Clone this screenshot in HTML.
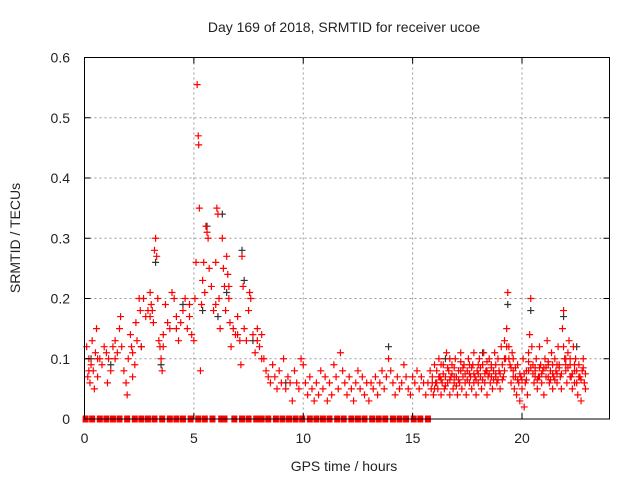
<!DOCTYPE html>
<html><head><meta charset="utf-8"><style>
body{margin:0;background:#fff;width:640px;height:480px;overflow:hidden;font-family:"Liberation Sans",sans-serif}
svg text{font-family:"Liberation Sans",sans-serif;fill:#222;font-size:14px}
</style></head><body>
<svg id="chart" width="640" height="480" xmlns="http://www.w3.org/2000/svg">
<text x="344" y="32" text-anchor="middle">Day 169 of 2018, SRMTID for receiver ucoe</text>
<text x="344" y="471" text-anchor="middle">GPS time / hours</text>
<text transform="translate(20,238) rotate(-90)" text-anchor="middle">SRMTID / TECUs</text>
<g id="grid"></g>
<g id="marks"></g>
<rect x="84.5" y="57.5" width="525" height="361.5" fill="none" stroke="#000" stroke-width="1"/>
<g id="ticks"></g>
</svg>
<script>
const xTicks=[0,5,10,15,20];
const yTicks=[0,0.1,0.2,0.3,0.4,0.5,0.6];
const yTickLabels=["0","0.1","0.2","0.3","0.4","0.5","0.6"];
const zeroTimes=[0.05,0.35,0.7,1.0,1.3,1.6,1.95,2.3,2.6,2.9,3.2,3.55,3.9,4.2,4.5,4.85,5.2,5.5,5.85,6.25,6.4,6.85,7.2,7.5,7.85,8.1,8.4,8.75,9.05,9.35,9.65,9.95,10.3,10.6,10.9,11.2,11.55,11.85,12.2,12.5,12.8,13.15,13.45,13.75,14.1,14.4,14.7,15.05,15.35,15.7];
const redPoints=[[0.1,0.12],[0.15,0.07],[0.2,0.1],[0.25,0.06],[0.3,0.09],[0.35,0.13],[0.4,0.08],[0.45,0.05],[0.5,0.11],[0.55,0.15],[0.6,0.07],[0.7,0.1],[0.8,0.09],[0.9,0.12],[1.0,0.11],[1.05,0.06],[1.1,0.1],[1.2,0.08],[1.3,0.12],[1.4,0.1],[1.5,0.11],[1.6,0.15],[1.65,0.17],[1.7,0.12],[1.8,0.08],[1.9,0.06],[1.95,0.04],[2.0,0.1],[2.1,0.14],[2.15,0.12],[2.2,0.11],[2.3,0.09],[2.35,0.16],[2.4,0.13],[2.5,0.2],[2.55,0.18],[2.6,0.12],[2.7,0.2],[2.8,0.17],[2.9,0.18],[3.0,0.21],[3.05,0.19],[3.1,0.18],[3.15,0.16],[3.2,0.28],[3.25,0.3],[3.3,0.27],[3.35,0.2],[3.4,0.13],[3.45,0.12],[3.5,0.1],[3.55,0.08],[3.6,0.14],[3.7,0.19],[3.8,0.16],[3.9,0.15],[4.0,0.21],[4.1,0.2],[4.2,0.17],[4.3,0.13],[4.4,0.16],[4.5,0.18],[4.6,0.2],[4.7,0.15],[4.8,0.17],[4.9,0.14],[5.0,0.13],[5.05,0.2],[5.1,0.26],[5.15,0.555],[5.2,0.47],[5.22,0.455],[5.25,0.35],[5.3,0.08],[5.35,0.19],[5.4,0.23],[5.45,0.26],[5.5,0.21],[5.55,0.32],[5.6,0.31],[5.65,0.3],[5.7,0.25],[5.8,0.22],[5.9,0.18],[6.0,0.26],[6.05,0.35],[6.1,0.34],[6.15,0.2],[6.2,0.15],[6.3,0.3],[6.35,0.25],[6.4,0.22],[6.45,0.18],[6.5,0.27],[6.55,0.24],[6.6,0.2],[6.65,0.16],[6.7,0.12],[6.8,0.15],[6.9,0.14],[7.0,0.17],[7.1,0.13],[7.15,0.09],[7.2,0.27],[7.25,0.22],[7.3,0.15],[7.4,0.13],[7.5,0.18],[7.55,0.21],[7.6,0.2],[7.7,0.14],[7.8,0.11],[7.9,0.13],[8.0,0.12],[8.1,0.14],[8.2,0.1],[8.3,0.08],[8.4,0.07],[8.5,0.06],[8.6,0.09],[8.7,0.07],[8.8,0.05],[8.9,0.08],[9.0,0.06],[9.1,0.1],[9.2,0.05],[9.3,0.07],[9.4,0.06],[9.5,0.03],[9.6,0.08],[9.7,0.06],[9.8,0.05],[9.9,0.1],[10.0,0.09],[10.1,0.06],[10.2,0.04],[10.3,0.07],[10.4,0.05],[10.5,0.03],[10.6,0.06],[10.7,0.04],[10.8,0.08],[10.9,0.05],[11.0,0.07],[11.1,0.03],[11.2,0.06],[11.3,0.04],[11.4,0.09],[11.5,0.07],[11.6,0.05],[11.7,0.11],[11.8,0.08],[11.9,0.06],[12.0,0.04],[12.1,0.07],[12.2,0.05],[12.3,0.03],[12.4,0.06],[12.5,0.08],[12.6,0.05],[12.7,0.07],[12.8,0.04],[12.9,0.06],[13.0,0.03],[13.1,0.06],[13.2,0.05],[13.3,0.07],[13.4,0.04],[13.5,0.06],[13.6,0.08],[13.7,0.05],[13.8,0.07],[13.9,0.1],[14.0,0.08],[14.1,0.06],[14.2,0.04],[14.3,0.07],[14.4,0.05],[14.5,0.06],[14.6,0.09],[14.7,0.07],[14.8,0.05],[14.9,0.04],[15.0,0.07],[15.1,0.06],[15.2,0.08],[15.3,0.05],[15.4,0.07],[15.5,0.06],[15.6,0.04],[15.7,0.06],[15.8,0.08],[15.85,0.05],[15.9,0.07],[15.95,0.04],[16.0,0.09],[16.05,0.06],[16.1,0.08],[16.15,0.05],[16.2,0.1],[16.25,0.07],[16.3,0.04],[16.35,0.06],[16.4,0.09],[16.45,0.05],[16.5,0.07],[16.55,0.11],[16.6,0.06],[16.65,0.08],[16.7,0.04],[16.75,0.07],[16.8,0.09],[16.85,0.05],[16.9,0.06],[16.95,0.1],[17.0,0.07],[17.05,0.04],[17.1,0.08],[17.15,0.06],[17.2,0.11],[17.25,0.05],[17.3,0.07],[17.35,0.09],[17.4,0.06],[17.45,0.04],[17.5,0.08],[17.55,0.1],[17.6,0.06],[17.65,0.07],[17.7,0.05],[17.75,0.09],[17.8,0.11],[17.85,0.07],[17.9,0.04],[17.95,0.08],[18.0,0.06],[18.05,0.1],[18.1,0.07],[18.15,0.05],[18.2,0.09],[18.25,0.11],[18.3,0.06],[18.35,0.08],[18.4,0.04],[18.45,0.07],[18.5,0.1],[18.55,0.06],[18.6,0.09],[18.65,0.05],[18.7,0.08],[18.75,0.11],[18.8,0.07],[18.85,0.06],[18.9,0.1],[18.95,0.08],[19.0,0.05],[19.05,0.12],[19.1,0.09],[19.15,0.07],[19.2,0.13],[19.25,0.1],[19.3,0.15],[19.35,0.21],[19.4,0.12],[19.45,0.09],[19.5,0.06],[19.55,0.11],[19.6,0.08],[19.65,0.05],[19.7,0.07],[19.75,0.04],[19.8,0.09],[19.85,0.06],[19.9,0.03],[19.95,0.07],[20.0,0.05],[20.05,0.1],[20.1,0.02],[20.15,0.06],[20.2,0.08],[20.25,0.04],[20.3,0.11],[20.35,0.14],[20.4,0.2],[20.45,0.12],[20.5,0.09],[20.55,0.06],[20.6,0.08],[20.65,0.1],[20.7,0.05],[20.75,0.07],[20.8,0.12],[20.85,0.09],[20.9,0.06],[20.95,0.08],[21.0,0.04],[21.05,0.1],[21.1,0.07],[21.15,0.13],[21.2,0.09],[21.25,0.06],[21.3,0.08],[21.35,0.11],[21.4,0.05],[21.45,0.07],[21.5,0.1],[21.55,0.08],[21.6,0.06],[21.65,0.12],[21.7,0.09],[21.75,0.07],[21.8,0.05],[21.85,0.15],[21.9,0.18],[21.95,0.1],[22.0,0.08],[22.05,0.06],[22.1,0.11],[22.15,0.13],[22.2,0.09],[22.25,0.07],[22.3,0.05],[22.35,0.12],[22.4,0.08],[22.45,0.1],[22.5,0.06],[22.55,0.04],[22.6,0.09],[22.65,0.07],[22.7,0.03],[22.75,0.08],[22.8,0.1],[22.85,0.06],[22.9,0.05],[16.3,0.09],[16.7,0.1],[17.2,0.08],[17.6,0.09],[18.0,0.09],[18.4,0.08],[18.8,0.09],[19.2,0.08],[20.3,0.08],[20.8,0.07],[21.2,0.07],[21.6,0.09],[22.0,0.1],[22.4,0.06],[16.1,0.06],[16.9,0.07],[17.8,0.06],[18.6,0.07],[19.6,0.1],[20.6,0.07],[21.4,0.09],[22.2,0.07],
[15.9,0.06],[16.0,0.05],[16.2,0.07],[16.3,0.065],[16.4,0.075],[16.5,0.055],[16.6,0.085],[16.7,0.065],[16.8,0.075],[16.9,0.085],[17.0,0.055],[17.1,0.065],[17.2,0.095],[17.3,0.085],[17.4,0.075],[17.5,0.065],[17.6,0.075],[17.7,0.085],[17.8,0.075],[17.9,0.065],[18.0,0.075],[18.1,0.085],[18.2,0.065],[18.3,0.075],[18.4,0.095],[18.5,0.075],[18.6,0.085],[18.7,0.065],[18.8,0.075],[18.9,0.065],[19.0,0.075],[19.1,0.065],[19.2,0.1],[19.3,0.12],[19.4,0.1],[19.5,0.085],[19.6,0.07],[19.7,0.085],[19.8,0.065],[19.9,0.075],[20.0,0.065],[20.1,0.075],[20.2,0.065],[20.3,0.095],[20.4,0.085],[20.5,0.075],[20.6,0.085],[20.7,0.065],[20.8,0.085],[20.9,0.075],[21.0,0.085],[21.1,0.085],[21.2,0.095],[21.3,0.065],[21.4,0.075],[21.5,0.065],[21.6,0.075],[21.7,0.085],[21.8,0.075],[21.9,0.12],[22.0,0.09],[22.1,0.085],[22.2,0.1],[22.3,0.075],[22.4,0.09],[22.5,0.08],[22.6,0.07],[22.7,0.065],[22.8,0.085],[22.9,0.075],
[0.2,0.08],[0.6,0.1],[1.4,0.13],[2.2,0.07],[3.0,0.17],[3.6,0.12],[4.2,0.15],[4.8,0.19],[6.0,0.19],[6.6,0.22],[7.0,0.14],[7.9,0.15],[8.1,0.1]];
const blackPoints=[[0.3,0.1],[1.2,0.09],[2.6,0.12],[3.25,0.26],[3.5,0.09],[4.5,0.19],[5.4,0.18],[5.6,0.32],[6.1,0.17],[6.3,0.34],[6.5,0.21],[7.2,0.28],[7.3,0.23],[7.7,0.13],[9.2,0.06],[13.9,0.12],[16.5,0.1],[18.2,0.11],[19.35,0.19],[20.4,0.18],[21.9,0.17],[22.5,0.12]];
const NS="http://www.w3.org/2000/svg";
const X=t=>84.5+t*(525/24);
const Y=v=>419-v*(361.5/0.6);
function mk(tag,attrs,parent){const e=document.createElementNS(NS,tag);for(const k in attrs)e.setAttribute(k,attrs[k]);parent.appendChild(e);return e;}
const grid=document.getElementById('grid'),ticks=document.getElementById('ticks'),marks=document.getElementById('marks');
xTicks.forEach(t=>{
  const x=X(t);
  if(t>0){const g=mk('line',{x1:x,x2:x,y1:57.5,y2:419,stroke:'#999','stroke-dasharray':'2,3'},grid);
  
  }
  const a=mk('line',{x1:x,x2:x,y1:419,y2:413,stroke:'#000'},ticks);
  
  
  const b=mk('line',{x1:x,x2:x,y1:57.5,y2:63.5,stroke:'#000'},ticks);
  
  
  const l=mk('text',{x:x,y:443,'text-anchor':'middle'},ticks);l.textContent=String(t);
  
  
});
yTicks.forEach((v,i)=>{
  const y=Y(v);
  if(v>0&&v<0.6){const g=mk('line',{x1:84.5,x2:609.5,y1:y,y2:y,stroke:'#999','stroke-dasharray':'2,3'},grid);
  
  }
  const a=mk('line',{x1:84.5,x2:90.5,y1:y,y2:y,stroke:'#000'},ticks);
  
  
  const b=mk('line',{x1:603.5,x2:609.5,y1:y,y2:y,stroke:'#000'},ticks);
  
  
  const l=mk('text',{x:70,y:y+5,'text-anchor':'end'},ticks);l.textContent=yTickLabels[i];
  
  
});
function plus(x,y,c,name){
  const p=mk('path',{d:`M${x-3.5},${y}h7M${x},${y-3.5}v7`,stroke:c,'stroke-width':1.2,fill:'none'},marks);
  
  
}
blackPoints.forEach(p=>plus(X(p[0]),Y(p[1]),'#333','black-point'));
redPoints.forEach(p=>plus(X(p[0]),Y(p[1]),'#f00','red-point'));
zeroTimes.forEach(t=>{
  const r=mk('rect',{x:X(t)-3,y:Y(0)-3.5,width:6,height:7,fill:'#f00'},marks);
  
  
});
</script>
</body></html>
